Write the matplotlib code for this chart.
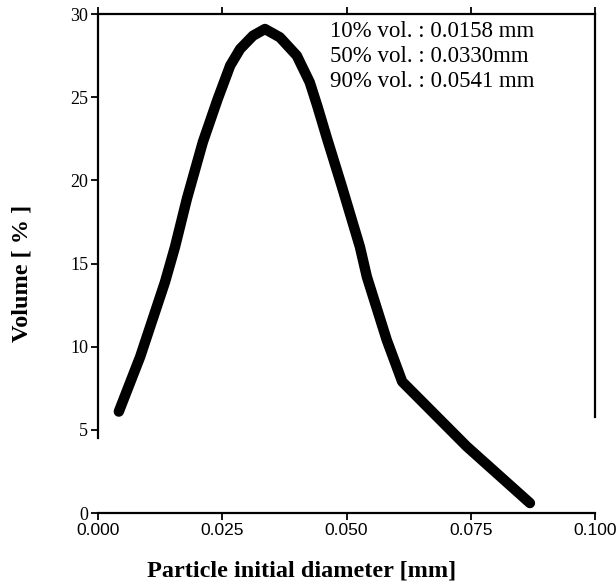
import numpy as np
import matplotlib
matplotlib.use("Agg")
import matplotlib.pyplot as plt

# ---------- DATA ----------
diameter_mm = [0.0042, 0.0085, 0.0105, 0.0135, 0.0155, 0.0179, 0.0211, 0.0241,
               0.0266, 0.0286, 0.0312, 0.0336, 0.0366, 0.0400, 0.0426, 0.0441,
               0.0461, 0.0491, 0.0527, 0.0541, 0.0581, 0.0612, 0.0742, 0.0869]
volume_pct = [6.1, 9.4, 11.2, 13.9, 16.0, 18.9, 22.3, 24.9,
              26.9, 27.9, 28.7, 29.1, 28.6, 27.5, 25.9, 24.5,
              22.5, 19.6, 16.0, 14.2, 10.4, 7.9, 4.0, 0.6]
x_ticks = [0.0, 0.025, 0.05, 0.075, 0.1]
x_tick_labels = ["0.000", "0.025", "0.050", "0.075", "0.100"]
y_ticks = [0, 5, 10, 15, 20, 25, 30]
stats_lines = ["10% vol. : 0.0158 mm",
               "50% vol. : 0.0330mm",
               "90% vol. : 0.0541 mm"]
# ----------------------------------------------------

fig = plt.figure(figsize=(6.16, 5.85), dpi=100)
ax = fig.add_axes([0.159, 0.123, 0.807, 0.853])

ax.plot(diameter_mm, volume_pct, color="black", lw=7.5, solid_capstyle="round",
        solid_joinstyle="round")

ax.set_xlim(0, 0.1)
ax.set_ylim(0, 30)
ax.set_xticks(x_ticks)
ax.set_xticklabels(x_tick_labels, family="Liberation Sans", fontsize=12.5)
ax.set_yticks(y_ticks)
ax.set_yticklabels([str(v) for v in y_ticks], family="Liberation Serif", fontsize=13)

ax.tick_params(axis="both", direction="out", length=5, width=1.3, pad=2, color="black")
ax.tick_params(axis="x", top=True, labeltop=False)

for side in ["left", "right", "top", "bottom"]:
    ax.spines[side].set_linewidth(1.6)
ax.spines["left"].set_bounds(4.5, 30)
ax.spines["right"].set_bounds(5.8, 30)

# axis titles placed in figure coords to match reference offsets
fig.text(0.49, 0.015, "Particle initial diameter [mm]", family="Liberation Serif",
         fontweight="bold", fontsize=17.5, ha="center", va="baseline")
fig.text(0.036, 0.532, "Volume [ % ]", family="Liberation Serif",
         fontweight="bold", fontsize=17.5, ha="center", va="center", rotation=90)

stat_baselines = [28.6, 27.1, 25.6]
for line, yb in zip(stats_lines, stat_baselines):
    ax.text(0.0467, yb, line, family="Liberation Serif", fontsize=16.5,
            ha="left", va="baseline")

fig.savefig("out.png", dpi=100)
